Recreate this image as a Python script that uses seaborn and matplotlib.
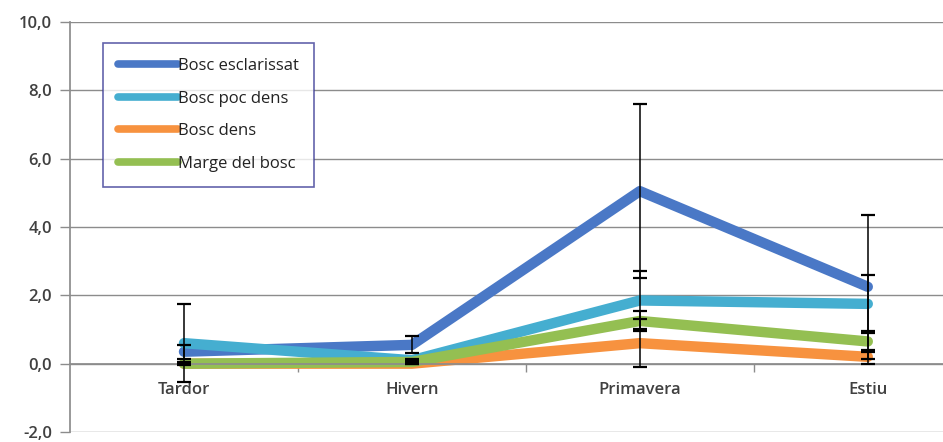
import matplotlib
matplotlib.use("Agg")
import matplotlib.pyplot as plt
import seaborn as sns
import pandas as pd
from matplotlib.ticker import FuncFormatter, FixedLocator

seasons = ["Tardor", "Hivern", "Primavera", "Estiu"]
series_names = ["Bosc esclarissat", "Bosc poc dens", "Bosc dens", "Marge del bosc"]
esclarissat = [0.35, 0.55, 5.05, 2.25]
poc_dens = [0.6, 0.1, 1.85, 1.75]
dens = [0.0, 0.0, 0.6, 0.2]
marge = [0.0, 0.05, 1.25, 0.65]
err_esclarissat = [0.2, 0.25, 2.55, 2.1]
err_poc_dens = [1.15, 0.05, 0.85, 0.85]
err_dens = [0.02, 0.02, 0.7, 0.2]
err_marge = [0.05, 0.05, 0.3, 0.3]

colors = ["#4a78c6", "#45aed0", "#f7923f", "#94bf52"]

values = [esclarissat, poc_dens, dens, marge]
errors = [err_esclarissat, err_poc_dens, err_dens, err_marge]

rows = []
for name, vals in zip(series_names, values):
    for s, v in zip(seasons, vals):
        rows.append({"Estacio": s, "Valor": v, "Serie": name})
df = pd.DataFrame(rows)

sns.set_theme(style="white")
plt.rcParams["font.family"] = ["Open Sans", "DejaVu Sans"]

fig = plt.figure(figsize=(9.43, 4.42), dpi=100)
ax = fig.add_axes([70 / 943, 10 / 442, 873 / 943, 410 / 442])

# horizontal gridlines
for yv in range(-2, 11, 2):
    ax.axhline(yv, color="#8c8c8c", linewidth=1.0, zorder=0)

sns.lineplot(data=df, x="Estacio", y="Valor", hue="Serie", hue_order=series_names,
             palette=colors, linewidth=7.5, sort=False, ax=ax, zorder=2,
             solid_capstyle="round")

xpos = range(len(seasons))
for vals, errs in zip(values, errors):
    ax.errorbar(xpos, vals, yerr=errs, fmt="none", ecolor="black",
                elinewidth=1.1, capsize=5, capthick=1.6, zorder=3)

ax.set_xlim(-0.5, 3.33)
ax.set_ylim(-2, 10)
ax.set_yticks(range(-2, 11, 2))
ax.yaxis.set_major_formatter(FuncFormatter(lambda v, p: f"{v:.1f}".replace(".", ",")))
ax.tick_params(axis="y", which="both", left=True, length=7, width=1, color="#8c8c8c",
               labelsize=12, labelcolor="#404040", pad=6)

# category axis at zero with separators
for sp in ["top", "right"]:
    ax.spines[sp].set_visible(False)
ax.spines["left"].set_color("#8c8c8c")
ax.spines["bottom"].set_position(("data", 0))
ax.spines["bottom"].set_color("#8c8c8c")
ax.xaxis.set_minor_locator(FixedLocator([0.5, 1.5, 2.5]))
ax.tick_params(axis="x", which="major", length=0, labelsize=12, labelcolor="#404040", pad=13)
ax.tick_params(axis="x", which="minor", bottom=True, length=6, width=1, color="#8c8c8c")
for lab in ax.get_yticklabels() + ax.get_xticklabels():
    lab.set_fontweight("semibold")

ax.set_xlabel("")
ax.set_ylabel("")

leg = ax.legend(loc="upper left", bbox_to_anchor=(0.038, 0.949), borderaxespad=0,
                fontsize=12, handlelength=3.6, handletextpad=0.0, labelspacing=1.0,
                frameon=True, fancybox=False, borderpad=0.9)
leg.get_frame().set_edgecolor("#3c3c96")
leg.get_frame().set_linewidth(1.2)
for line in leg.get_lines():
    line.set_linewidth(5.5)
for t in leg.get_texts():
    t.set_color("#222222")

fig.savefig("out.png", dpi=100)
